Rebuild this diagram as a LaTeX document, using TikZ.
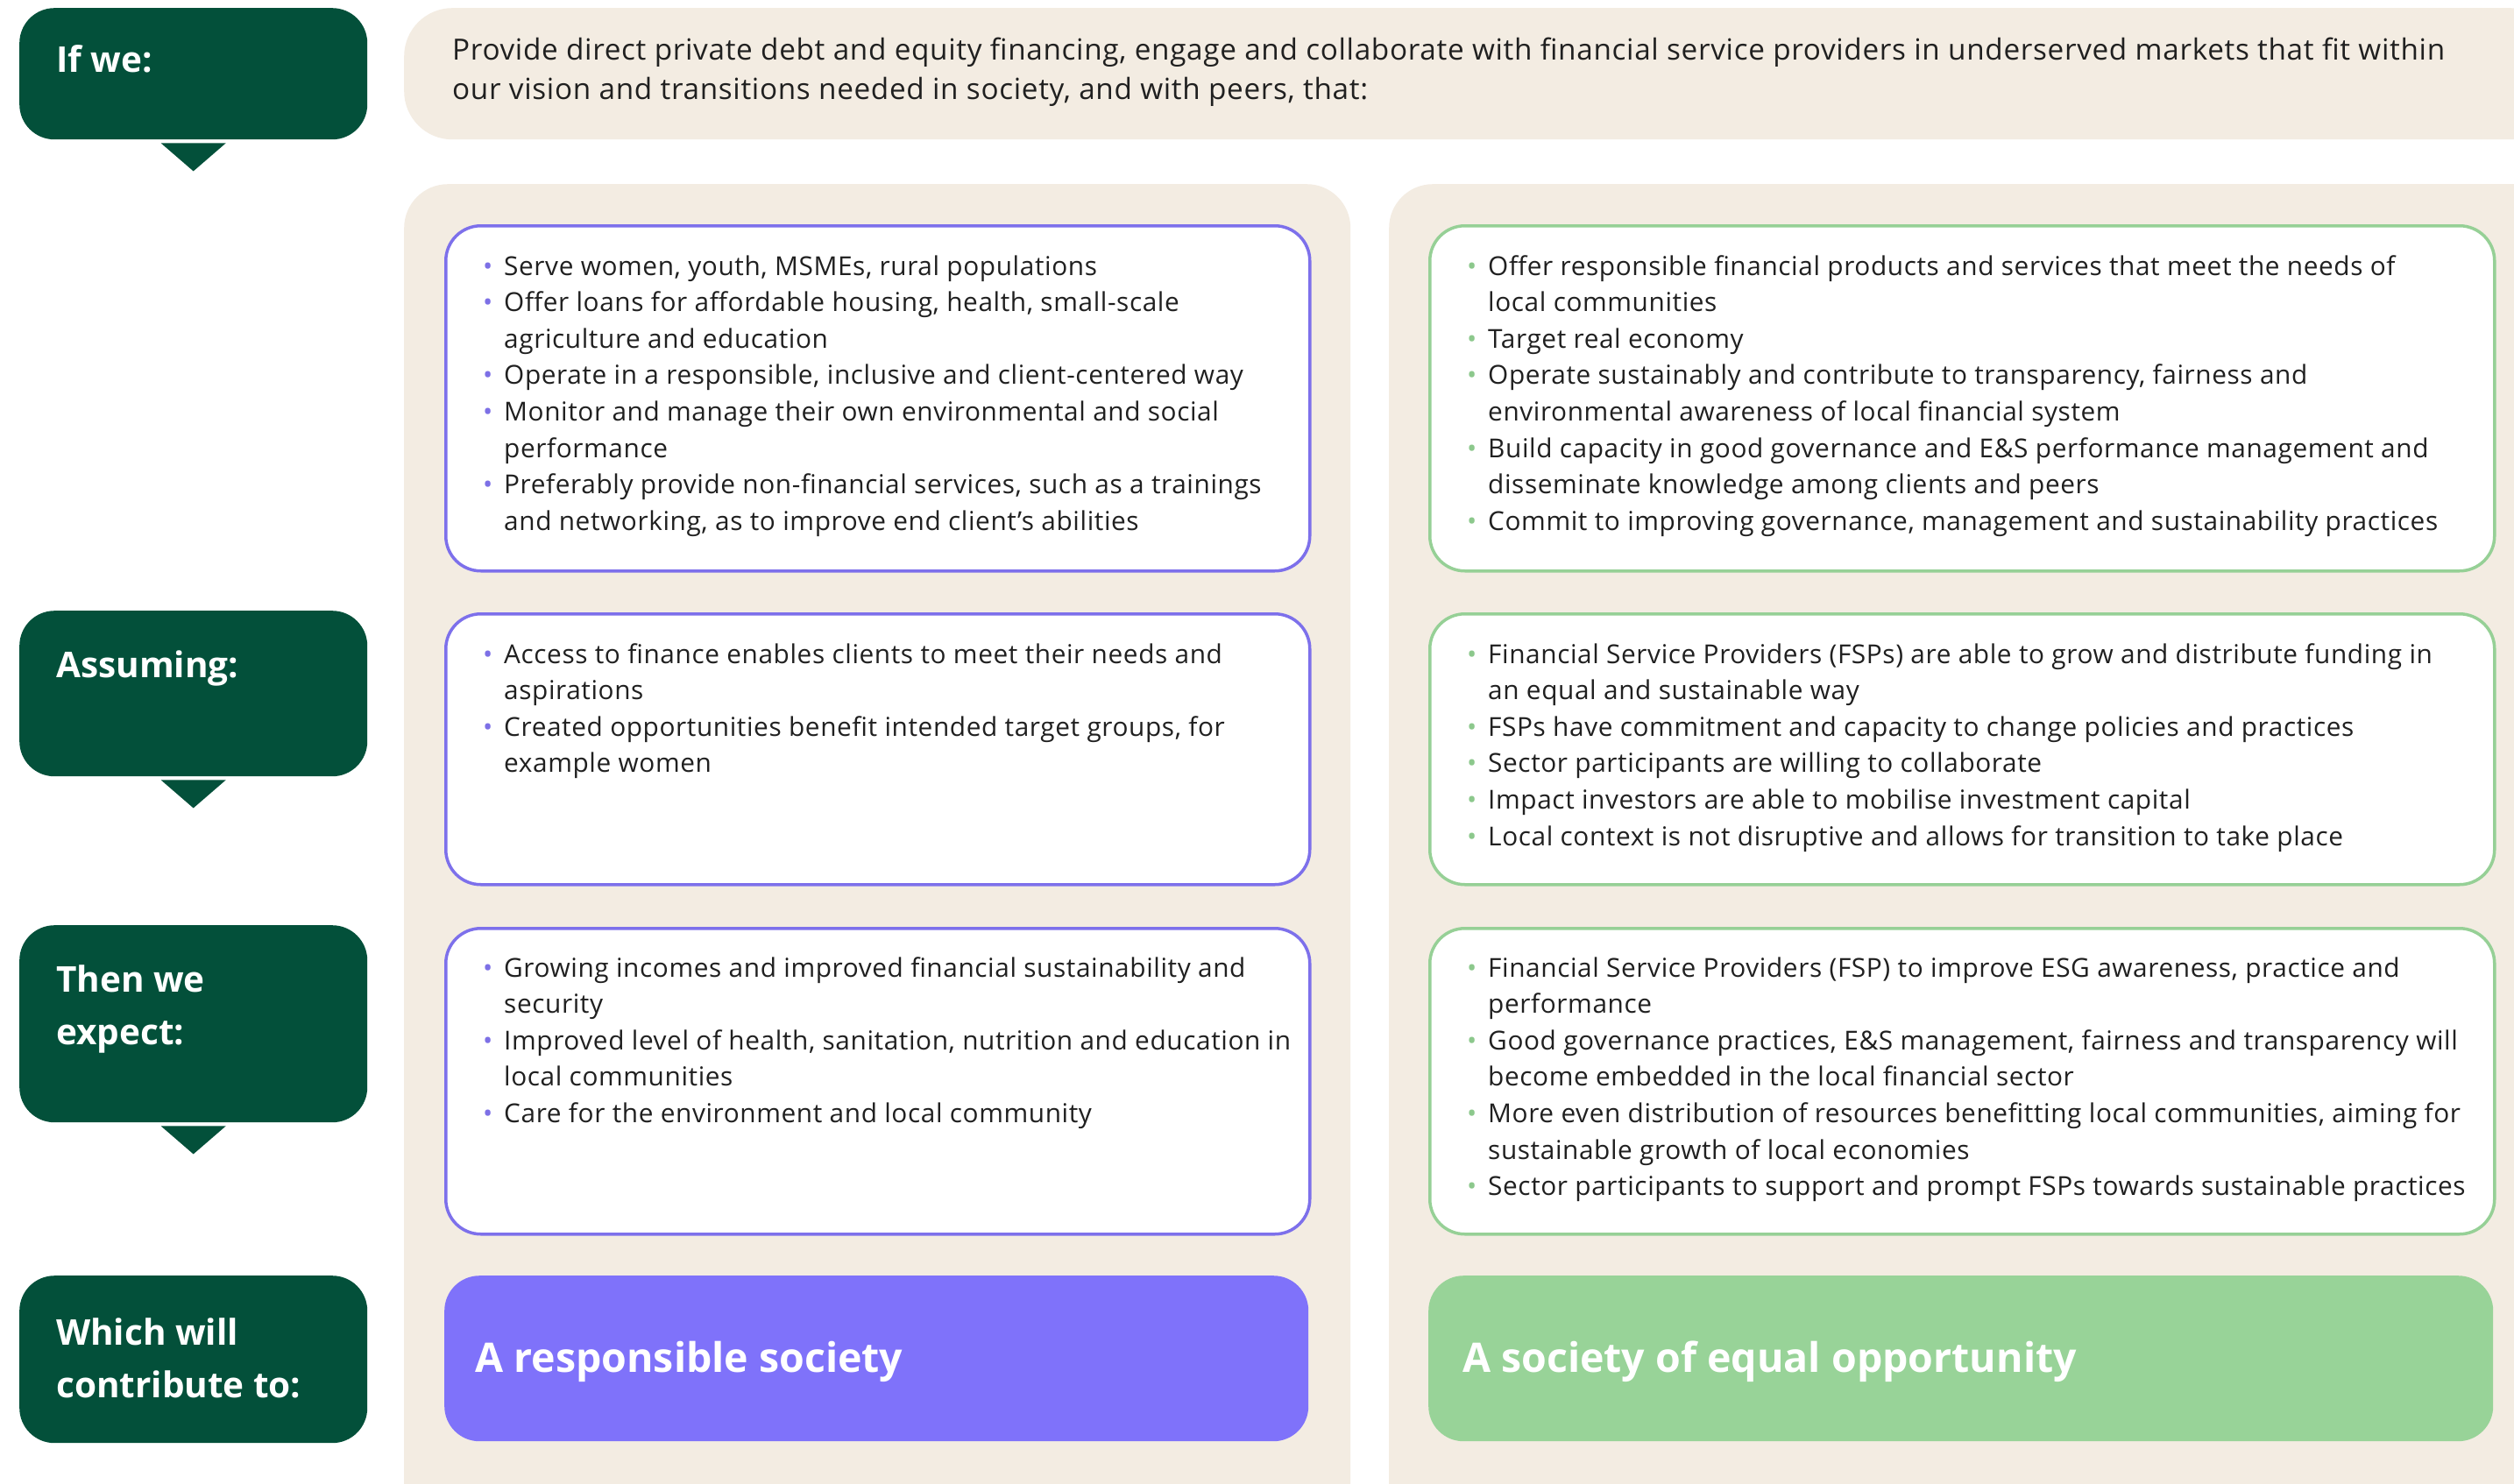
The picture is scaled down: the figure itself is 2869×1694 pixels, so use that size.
\documentclass[tikz,border=0pt]{standalone}
\usepackage{fontspec}
\setmainfont{Open Sans}[LetterSpace=2]
\newfontfamily\headfont{Open Sans}
\definecolor{dkgreen}{RGB}{3,80,58}
\definecolor{beige}{RGB}{243,236,226}
\definecolor{purpline}{RGB}{125,112,235}
\definecolor{purpfill}{RGB}{127,114,250}
\definecolor{purpbul}{RGB}{125,112,230}
\definecolor{grnline}{RGB}{150,208,150}
\definecolor{grnfill}{RGB}{152,211,152}
\definecolor{grnbul}{RGB}{140,200,140}
\definecolor{txt}{RGB}{32,32,32}
\newcommand{\bp}{\llap{\textcolor{purpbul}{\textbullet}\hspace{13pt}}}
\newcommand{\bg}{\llap{\textcolor{grnbul}{\textbullet}\hspace{13pt}}}
\tikzset{
  headbox/.style={fill=dkgreen, draw=none, rounded corners=40pt, anchor=north west, minimum width=397pt, inner sep=0pt},
  panelbox/.style={fill=beige, draw=none, rounded corners=50pt, anchor=north west, inner sep=0pt},
  pbox/.style={draw=purpline, line width=3.5pt, fill=white, rounded corners=40pt, anchor=north west, minimum width=986pt, inner sep=0pt},
  gbox/.style={draw=grnline, line width=3.5pt, fill=white, rounded corners=40pt, anchor=north west, minimum width=1215pt, inner sep=0pt},
  pfill/.style={fill=purpfill, draw=none, rounded corners=40pt, anchor=north west, minimum width=986pt, inner sep=0pt},
  gfill/.style={fill=grnfill, draw=none, rounded corners=40pt, anchor=north west, minimum width=1215pt, inner sep=0pt},
  headtxt/.style={text=white, font=\headfont\bfseries\fontsize{40.5}{60}\selectfont, anchor=base west, inner sep=0pt},
  goaltxt/.style={text=white, font=\headfont\bfseries\fontsize{46.5}{60}\selectfont, anchor=base west, inner sep=0pt},
  bodytxt/.style={text=txt, font=\fontsize{29.8}{41.6}\selectfont, anchor=base west, inner sep=0pt},
  arrowtri/.style={fill=dkgreen, draw=none}
}
\begin{document}
\begin{tikzpicture}[x=1pt,y=-1pt]
\useasboundingbox (0,0) rectangle (2869,1694);
\clip (0,0) rectangle (2869,1694);
\fill[white] (0,0) rectangle (2869,1694);
% panels
\node[panelbox, minimum width=2459pt, minimum height=150pt, rounded corners=55pt] (topp) at (461,9) {};
\node[panelbox, minimum width=1080pt, minimum height=1550pt] (lpan) at (461,210) {};
\node[panelbox, minimum width=1335pt, minimum height=1550pt] (rpan) at (1585,210) {};
% head boxes
\node[headbox, minimum height=150pt] (h1) at (22,9) {};
\node[headbox, minimum height=189pt] (h2) at (22,697) {};
\node[headbox, minimum height=225pt] (h3) at (22,1056) {};
\node[headbox, minimum height=191pt] (h4) at (22,1456) {};
\fill[arrowtri] ([shift={(-37,4)}]h1.south) -- ([shift={(37,4)}]h1.south) -- ([shift={(0,36)}]h1.south) -- cycle;
\fill[arrowtri] ([shift={(-37,4)}]h2.south) -- ([shift={(37,4)}]h2.south) -- ([shift={(0,36)}]h2.south) -- cycle;
\fill[arrowtri] ([shift={(-37,4)}]h3.south) -- ([shift={(37,4)}]h3.south) -- ([shift={(0,36)}]h3.south) -- cycle;
\node[headtxt] (t1) at (64,82) {If we:};
\node[headtxt] (t2) at (64,773) {Assuming:};
\node[headtxt, align=left] (t3) at (64,1132) {\begin{tabular}[t]{@{}l@{}}Then we\\expect:\end{tabular}};
\node[headtxt, align=left] (t4) at (64,1535) {\begin{tabular}[t]{@{}l@{}}Which will\\contribute to:\end{tabular}};
% content boxes
\node[pbox, minimum height=394pt] (p1) at (507,256) {};
\node[pbox, minimum height=309pt] (p2) at (507,699) {};
\node[pbox, minimum height=349pt] (p3) at (507,1058) {};
\node[pfill, minimum height=189pt] (p4) at (507,1456) {};
\node[gbox, minimum height=394pt] (g1) at (1630,256) {};
\node[gbox, minimum height=309pt] (g2) at (1630,699) {};
\node[gbox, minimum height=349pt] (g3) at (1630,1058) {};
\node[gfill, minimum height=189pt] (g4) at (1630,1456) {};
% texts
\node[bodytxt, font=\fontsize{33.3}{44}\selectfont] (ttop) at (516,69) {\begin{tabular}[t]{@{}l@{}}Provide direct private debt and equity financing, engage and collaborate with financial service providers in underserved markets that fit within\\our vision and transitions needed in society, and with peers, that:\end{tabular}};
\node[bodytxt] (tp1) at (575,314) {\begin{tabular}[t]{@{}l@{}}
\bp Serve women, youth, MSMEs, rural populations\\
\bp Offer loans for affordable housing, health, small-scale\\
agriculture and education\\
\bp Operate in a responsible, inclusive and client-centered way\\
\bp Monitor and manage their own environmental and social\\
performance\\
\bp Preferably provide non-financial services, such as a trainings\\
and networking, as to improve end client’s abilities\end{tabular}};
\node[bodytxt] (tg1) at (1698,314) {\begin{tabular}[t]{@{}l@{}}
\bg Offer responsible financial products and services that meet the needs of\\
local communities\\
\bg Target real economy\\
\bg Operate sustainably and contribute to transparency, fairness and\\
environmental awareness of local financial system\\
\bg Build capacity in good governance and E\&S performance management and\\
disseminate knowledge among clients and peers\\
\bg Commit to improving governance, management and sustainability practices\end{tabular}};
\node[bodytxt] (tp2) at (575,757) {\begin{tabular}[t]{@{}l@{}}
\bp Access to finance enables clients to meet their needs and\\
aspirations\\
\bp Created opportunities benefit intended target groups, for\\
example women\end{tabular}};
\node[bodytxt] (tg2) at (1698,757) {\begin{tabular}[t]{@{}l@{}}
\bg Financial Service Providers (FSPs) are able to grow and distribute funding in\\
an equal and sustainable way\\
\bg FSPs have commitment and capacity to change policies and practices\\
\bg Sector participants are willing to collaborate\\
\bg Impact investors are able to mobilise investment capital\\
\bg Local context is not disruptive and allows for transition to take place\end{tabular}};
\node[bodytxt] (tp3) at (575,1115) {\begin{tabular}[t]{@{}l@{}}
\bp Growing incomes and improved financial sustainability and\\
security\\
\bp Improved level of health, sanitation, nutrition and education in\\
local communities\\
\bp Care for the environment and local community\end{tabular}};
\node[bodytxt] (tg3) at (1698,1115) {\begin{tabular}[t]{@{}l@{}}
\bg Financial Service Providers (FSP) to improve ESG awareness, practice and\\
performance\\
\bg Good governance practices, E\&S management, fairness and transparency will\\
become embedded in the local financial sector\\
\bg More even distribution of resources benefitting local communities, aiming for\\
sustainable growth of local economies\\
\bg Sector participants to support and prompt FSPs towards sustainable practices\end{tabular}};
\node[goaltxt] (tp4) at (542,1566) {A responsible society};
\node[goaltxt] (tg4) at (1669,1566) {A society of equal opportunity};
\end{tikzpicture}
\end{document}
